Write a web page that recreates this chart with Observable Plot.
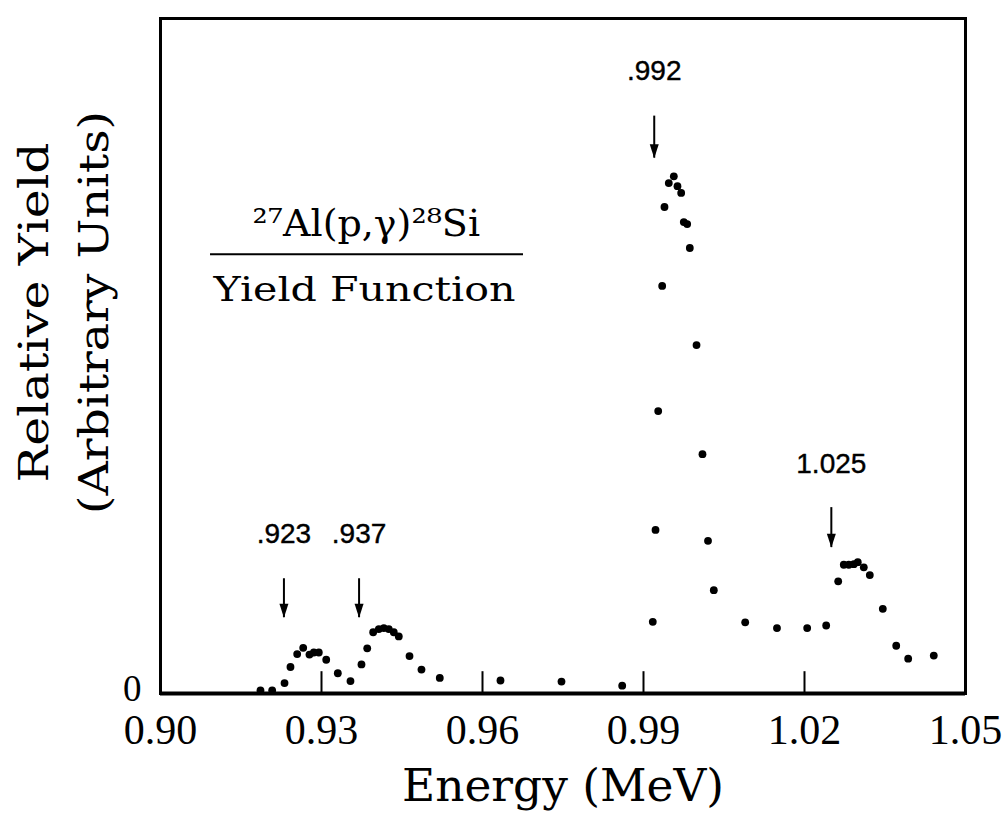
<!DOCTYPE html>
<html><head><meta charset="utf-8">
<script src="https://cdn.jsdelivr.net/npm/d3@7"></script>
<script src="https://cdn.jsdelivr.net/npm/@observablehq/plot@0.6"></script>
<style>body{margin:0;background:#fff}</style>
</head><body><div id="chart"></div>
<script>
// Measured yield points (energy in MeV, yield in arbitrary units)
const energy = [
  0.91863, 0.92081, 0.92311, 0.92422, 0.92547, 0.92659, 0.92776, 0.92857, 0.92950, 0.93088,
  0.93304, 0.93540, 0.93745, 0.93852, 0.93963, 0.94068, 0.94161, 0.94254, 0.94347, 0.94440,
  0.94640, 0.94863, 0.95204,
  0.96335, 0.97472, 0.98603,
  0.99173, 0.99224, 0.99274, 0.99348, 0.99391, 0.99471, 0.99565, 0.99633, 0.99702, 0.99751,
  0.99814, 0.99863, 0.99988, 1.00099, 1.00202, 1.00310, 1.00895, 1.01487, 1.02050, 1.02404,
  1.02628, 1.02732, 1.02825, 1.02919, 1.02993, 1.03105, 1.03217, 1.03459, 1.03709, 1.03932,
  1.04409
];
const yieldVals = [
  0.6, 0.6, 2.0, 5.1, 7.6, 8.8, 7.5, 7.9, 7.9, 6.5,
  3.9, 2.4, 5.6, 8.7, 11.8, 12.4, 12.6, 12.4, 11.8, 11.0,
  7.2, 4.6, 3.0,
  2.5, 2.3, 1.5,
  13.8, 31.5, 54.4, 78.5, 93.7, 98.3, 99.6, 97.7, 96.4, 90.8,
  90.4, 85.8, 67.1, 46.1, 29.4, 19.9, 13.7, 12.6, 12.6, 13.1,
  21.6, 24.8, 24.8, 24.9, 25.3, 24.3, 22.8, 16.3, 9.2, 6.7,
  7.3
];
const xTicks = [0.90, 0.93, 0.96, 0.99, 1.02, 1.05];
const innerTicks = [0.93, 0.96, 0.99, 1.02];
const yTicks = [0];
const innerTickHeight = 4.2;

// Resonance markers
const peakLabels = [".923", ".937", ".992", "1.025"];
const peakEnergy = [0.923, 0.937, 0.992, 1.025];
const peakLabelY = [30.8, 30.8, 119.8, 44.1];
const arrowTop = [22.1, 22.1, 111.2, 35.8];
const arrowTip = [14.6, 14.6, 103.1, 28.1];

// Texts
const yTitle = ["Relative Yield", "(Arbitrary Units)"];
const xTitle = "Energy (MeV)";
const reaction = "²⁷Al(p,γ)²⁸Si";
const reactionSub = "Yield Function";
const annotX = [0.93835, 0.93801];
const annotY = [90.4, 77.7];
const fractionLine = [{x1: 0.90932, x2: 0.96764, y: 84.6}];

const points = energy.map((e, i) => ({e, y: yieldVals[i]}));
const peaks = peakLabels.map((label, i) => ({label, e: peakEnergy[i], ly: peakLabelY[i], top: arrowTop[i], tip: arrowTip[i]}));

const arrowHead = {
  draw(ctx, size) {
    const k = Math.sqrt(size / Math.PI);
    ctx.moveTo(0, 0);
    ctx.lineTo(-k, -3.1 * k);
    ctx.lineTo(k, -3.1 * k);
    ctx.closePath();
  }
};

const serif = "DejaVu Serif";
const svg = Plot.plot({
  width: 1007,
  height: 830,
  marginLeft: 160,
  marginRight: 42,
  marginTop: 18,
  marginBottom: 137,
  style: {fontFamily: "Liberation Serif", color: "black", background: "white"},
  x: {domain: [0.90, 1.05]},
  y: {domain: [0, 130]},
  marks: [
    Plot.frame({stroke: "black", strokeWidth: 3}),
    Plot.ruleY([0], {stroke: "black", strokeWidth: 4}),
    Plot.ruleX(innerTicks, {y1: 0, y2: innerTickHeight, stroke: "black", strokeWidth: 2}),
    Plot.dot(points, {x: "e", y: "y", r: 3.9, fill: "black", stroke: "none"}),
    Plot.ruleX(peaks, {x: "e", y1: "top", y2: "tip", stroke: "black", strokeWidth: 2}),
    Plot.dot(peaks, {x: "e", y: "tip", r: 4.5, symbol: arrowHead, fill: "black", stroke: "none"}),
    Plot.text(peaks, {x: "e", y: "ly", text: "label", fontFamily: "Liberation Sans", fontSize: 28, fill: "black", stroke: "black", strokeWidth: 0.4}),
    Plot.text([reaction], {x: annotX[0], y: annotY[0], text: d => d, fontFamily: serif, fontSize: 38, fill: "black"}),
    Plot.ruleY(fractionLine, {x1: "x1", x2: "x2", y: "y", stroke: "black", strokeWidth: 2}),
    Plot.text([reactionSub], {x: annotX[1], y: annotY[1], text: d => d, fontFamily: serif, fontSize: 34, fill: "black"}),
    Plot.text([yTitle[0]], {frameAnchor: "left", textAnchor: "middle", text: d => d, rotate: -90, dx: -126.1, dy: -43.5, fontFamily: serif, fontSize: 41, fill: "black"}),
    Plot.text([yTitle[1]], {frameAnchor: "left", textAnchor: "middle", text: d => d, rotate: -90, dx: -66.1, dy: -43.5, fontFamily: serif, fontSize: 41, fill: "black"}),
    Plot.text([xTitle], {frameAnchor: "bottom", textAnchor: "middle", text: d => d, dy: 107.9, fontFamily: serif, fontSize: 44, fill: "black"}),
    Plot.axisX({ticks: xTicks, tickSize: 0, tickPadding: 21, tickFormat: d3.format(".2f"), fontSize: 42, fontFamily: "Liberation Serif", label: null}),
    Plot.axisY({ticks: yTicks, tickSize: 0, tickPadding: 19, dy: -4, tickFormat: d => String(d), fontSize: 37, fontFamily: "Liberation Serif", label: null})
  ]
});

const fitLengths = {"Relative Yield": 340, "(Arbitrary Units)": 403, "Energy (MeV)": 322, "Yield Function": 302};
d3.select(svg).selectAll("text").each(function () {
  const L = fitLengths[this.textContent];
  if (L) {
    this.setAttribute("textLength", L);
    this.setAttribute("lengthAdjust", "spacingAndGlyphs");
  }
});
document.getElementById("chart").appendChild(svg);
</script>
</body></html>
